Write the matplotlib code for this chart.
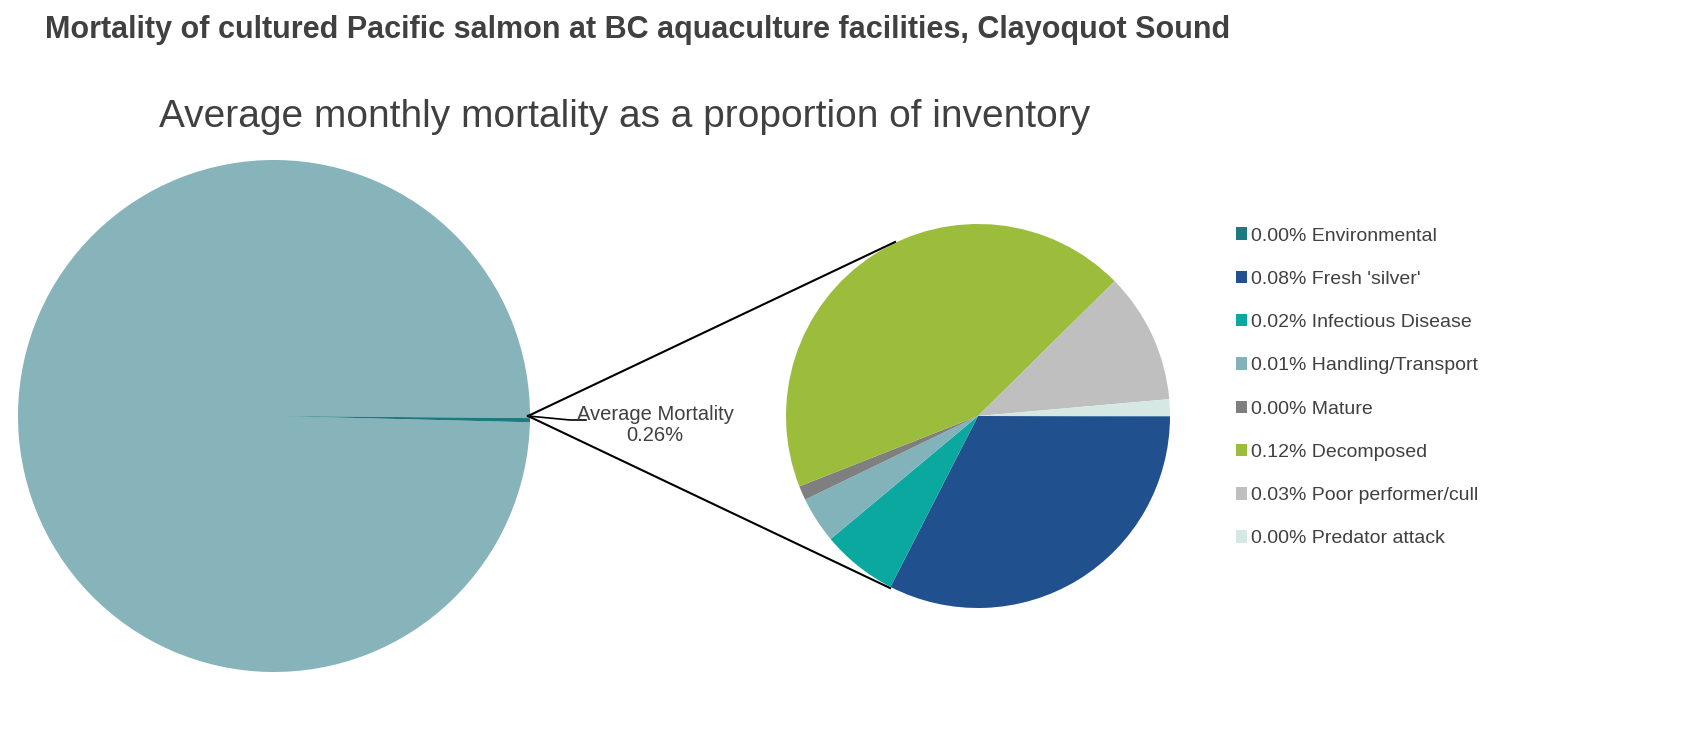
import matplotlib
matplotlib.use("Agg")
import matplotlib.pyplot as plt
from matplotlib.lines import Line2D
from matplotlib.patches import Patch

plt.rcParams['font.family'] = ['Liberation Sans', 'DejaVu Sans']

main_labels = ["Survived", "Average Mortality"]
main_values = [99.74, 0.26]
categories = ["Environmental", "Fresh 'silver'", "Infectious Disease", "Handling/Transport",
              "Mature", "Decomposed", "Poor performer/cull", "Predator attack"]
legend_pct = ["0.00%", "0.08%", "0.02%", "0.01%", "0.00%", "0.12%", "0.03%", "0.00%"]
shares = [0.05, 32.5, 6.4, 3.9, 1.2, 43.6, 11.0, 1.4]
colors = ["#1F7A80", "#21508F", "#0AA89E", "#82B2BA", "#7F7F7F", "#9BBD3B", "#BFBFBF", "#D6E8E4"]

W, H = 1700, 749
fig = plt.figure(figsize=(17, 7.49), dpi=100)
fig.patch.set_facecolor("white")

def px(x, y):
    return x / W, 1 - y / H

fig.text(*px(45, 30), "Mortality of cultured Pacific salmon at BC aquaculture facilities, Clayoquot Sound",
         fontsize=22, fontweight="bold", color="#404040", va="center", ha="left")
fig.text(*px(625, 117), "Average monthly mortality as a proportion of inventory",
         fontsize=28, color="#404040", va="center", ha="center")

# left pie
cx, cy, r = 274, 416, 256
ax1 = fig.add_axes([(cx - r) / W, 1 - (cy + r) / H, 2 * r / W, 2 * r / H])
ax1.pie(main_values, colors=["#87B3BA", "#1F7A80"], startangle=-main_values[1] / 100 * 180,
        counterclock=True)
ax1.set_aspect("auto")
ax1.set_xlim(-1, 1); ax1.set_ylim(-1, 1)

# right pie
cx2, cy2, r2 = 978, 416, 192
ax2 = fig.add_axes([(cx2 - r2) / W, 1 - (cy2 + r2) / H, 2 * r2 / W, 2 * r2 / H])
ax2.pie(shares, colors=colors, startangle=0, counterclock=False)
ax2.set_aspect("auto")
ax2.set_xlim(-1, 1); ax2.set_ylim(-1, 1)

# connector lines
for (x2, y2) in [(895, 242), (890, 588)]:
    fig.add_artist(Line2D([528 / W, x2 / W], [1 - 416 / H, 1 - y2 / H], color="black", lw=1.5))
fig.add_artist(Line2D([528 / W, 570 / W, 586 / W], [1 - 416 / H, 1 - 420 / H, 1 - 420 / H],
                      color="black", lw=1.2))
fig.text(*px(655, 425), "Average Mortality\n0.26%", fontsize=14.5, color="#404040",
         ha="center", va="center", linespacing=1.15)

# legend
handles = [Patch(facecolor=c, edgecolor="none") for c in colors]
labels = [f"{p} {n}" for p, n in zip(legend_pct, categories)]
fig.legend(handles, labels, loc="upper left", bbox_to_anchor=px(1218, 210), frameon=False,
           fontsize=14, handlelength=0.6, handleheight=0.6, handletextpad=0.2,
           labelspacing=1.35, labelcolor="#404040")

fig.savefig("out.png", dpi=100)
